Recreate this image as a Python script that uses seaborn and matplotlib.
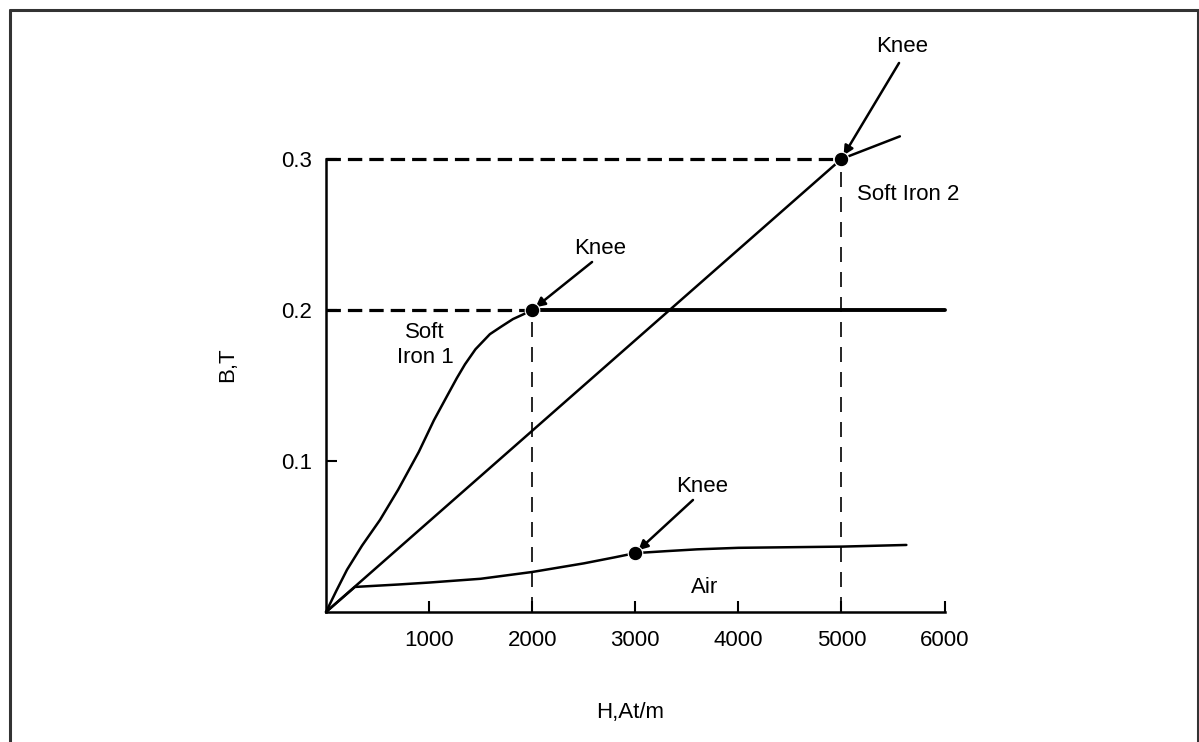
import seaborn as sns
import matplotlib.pyplot as plt
from matplotlib.lines import Line2D
import pandas as pd

# B-H curves
soft1_H = [0, 100, 204, 350, 524, 700, 900, 1047, 1174, 1270, 1348, 1450, 1590, 1700, 1814, 1910, 2000]
soft1_B = [0, 0.014, 0.028, 0.044, 0.061, 0.081, 0.106, 0.127, 0.143, 0.155, 0.164, 0.174, 0.184, 0.189, 0.194, 0.197, 0.2]
flat_H = [2000, 6000]
flat_B = [0.2, 0.2]
soft2_H = [0, 5000, 5567]
soft2_B = [0, 0.3, 0.315]
air_H = [0, 281, 700, 1000, 1500, 2000, 2500, 2800, 3000, 3300, 3600, 4000, 5000, 5630]
air_B = [0, 0.0166, 0.0182, 0.0195, 0.022, 0.0265, 0.0322, 0.0362, 0.039, 0.0403, 0.0415, 0.0425, 0.0433, 0.0444]
knee_H = [2000, 5000, 3000]
knee_B = [0.2, 0.3, 0.039]

x_ticks = [1000, 2000, 3000, 4000, 5000, 6000]
y_ticks = [0.1, 0.2, 0.3]
y_tick_labels = ["0.1", "0.2", "0.3"]

sns.set_theme(style="ticks")
plt.rcParams["font.family"] = ["Liberation Sans", "DejaVu Sans"]
plt.rcParams["text.color"] = "black"
plt.rcParams["axes.labelcolor"] = "black"

fig = plt.figure(figsize=(11.99, 7.42), dpi=100)
ax = fig.add_axes([326 / 1199, 1 - 612 / 742, 618.5 / 1199, 453 / 742])

soft1 = pd.DataFrame({"H": soft1_H, "B": soft1_B})
flat = pd.DataFrame({"H": flat_H, "B": flat_B})
soft2 = pd.DataFrame({"H": soft2_H, "B": soft2_B})
air = pd.DataFrame({"H": air_H, "B": air_B})
knees = pd.DataFrame({"H": knee_H, "B": knee_B})

sns.lineplot(data=soft1, x="H", y="B", color="black", lw=1.8, ax=ax, clip_on=False)
sns.lineplot(data=flat, x="H", y="B", color="black", lw=2.8, ax=ax, clip_on=False)
sns.lineplot(data=soft2, x="H", y="B", color="black", lw=1.8, ax=ax, clip_on=False)
sns.lineplot(data=air, x="H", y="B", color="black", lw=1.8, ax=ax, clip_on=False)
sns.scatterplot(data=knees, x="H", y="B", color="black", s=110, ax=ax, zorder=5, clip_on=False)

# reference dashes
ax.plot([0, 2000], [0.2, 0.2], color="black", lw=2.3, dashes=(4.5, 2.2), clip_on=False)
ax.plot([0, 5000], [0.3, 0.3], color="black", lw=2.3, dashes=(4.5, 2.2), clip_on=False)
ax.plot([2000, 2000], [0, 0.2], color="black", lw=1.2, dashes=(9, 6), clip_on=False)
ax.plot([5000, 5000], [0, 0.3], color="black", lw=1.2, dashes=(9, 6), clip_on=False)

arrow = dict(arrowstyle="-|>", color="black", lw=1.8, mutation_scale=14, shrinkA=0, shrinkB=3)
ax.annotate("", xy=(5000, 0.3), xytext=(5559, 0.3636), arrowprops=arrow, annotation_clip=False)
ax.annotate("", xy=(2000, 0.2), xytext=(2581, 0.2318), arrowprops=arrow, annotation_clip=False)
ax.annotate("", xy=(3000, 0.039), xytext=(3560, 0.0742), arrowprops=arrow, annotation_clip=False)

fs = 16
ax.text(5588, 0.3742, "Knee", fontsize=fs, ha="center", va="center")
ax.text(2658, 0.241, "Knee", fontsize=fs, ha="center", va="center")
ax.text(3648, 0.0834, "Knee", fontsize=fs, ha="center", va="center")
ax.text(960, 0.177, "Soft\nIron 1", fontsize=fs, ha="center", va="center", linespacing=1.25)
ax.text(5151, 0.2768, "Soft Iron 2", fontsize=fs, ha="left", va="center")
ax.text(3677, 0.0159, "Air", fontsize=fs, ha="center", va="center")

ax.set_xlim(0, 6000)
ax.set_ylim(0, 0.3)
ax.set_xticks(x_ticks)
ax.set_yticks(y_ticks)
ax.set_yticklabels(y_tick_labels)
ax.tick_params(direction="in", length=8, width=1.5, labelsize=fs, colors="black")
ax.tick_params(axis="y", pad=10)
ax.tick_params(axis="x", pad=13)
sns.despine(ax=ax)
for s in ["left", "bottom"]:
    ax.spines[s].set_linewidth(1.8)
    ax.spines[s].set_color("black")

ax.set_xlabel("H,At/m", fontsize=fs)
ax.set_ylabel("B,T", fontsize=fs)
ax.xaxis.set_label_coords(0.4915, -0.199)
ax.yaxis.set_label_coords(-0.142, 0.545)

# outer frame (bottom edge is cut off in the picture)
fw = 2.2
fig.add_artist(Line2D([10.5 / 1199, 10.5 / 1199], [0, 1 - 9.5 / 742], color="#333333", lw=fw))
fig.add_artist(Line2D([10.5 / 1199, 1197.5 / 1199], [1 - 9.5 / 742, 1 - 9.5 / 742], color="#333333", lw=fw))
fig.add_artist(Line2D([1197.5 / 1199, 1197.5 / 1199], [0, 1 - 9.5 / 742], color="#333333", lw=fw))

fig.savefig("out.png", dpi=100)
